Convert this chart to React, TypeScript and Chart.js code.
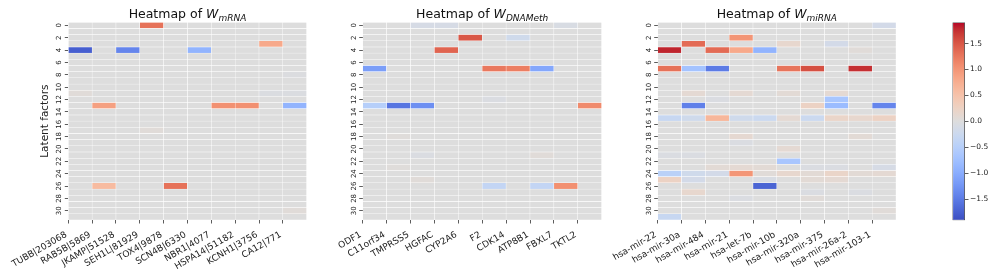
import React, { useEffect, useRef } from 'react';
import { Chart, registerables } from 'chart.js';

Chart.register(...registerables);
Chart.defaults.font.family = '"DejaVu Sans", sans-serif';
Chart.defaults.color = '#222222';

// ---------- data ----------
const mrnaGenes = ['TUBB|203068', 'RAB5B|5869', 'JKAMP|51528', 'SEH1L|81929', 'TOX4|9878', 'SCN4B|6330', 'NBR1|4077', 'HSPA14|51182', 'KCNH1|3756', 'CA12|771'];
const dnaGenes = ['ODF1', 'C11orf34', 'TMPRSS5', 'HGFAC', 'CYP2A6', 'F2', 'CDK14', 'ATP8B1', 'FBXL7', 'TKTL2'];
const mirnaGenes = ['hsa-mir-22', 'hsa-mir-30a', 'hsa-mir-484', 'hsa-mir-21', 'hsa-let-7b', 'hsa-mir-10b', 'hsa-mir-320a', 'hsa-mir-375', 'hsa-mir-26a-2', 'hsa-mir-103-1'];
const rowTicks = [0, 2, 4, 6, 8, 10, 12, 14, 16, 18, 20, 22, 24, 26, 28, 30];
const colorbarTicks = [-1.5, -1.0, -0.5, 0.0, 0.5, 1.0, 1.5];
const VMIN = -1.91;
const VMAX = 1.91;

const W_mRNA: number[][] = [
  [0, 0, 0, 1.3, 0, 0, 0, 0, 0, 0],
  [0, 0, 0, 0, 0, 0, 0, 0, 0, 0],
  [0, 0, 0, 0, 0, 0, 0, 0, 0, 0],
  [0, 0, 0, 0, 0, 0, 0, 0, 0.8, 0],
  [-1.75, 0, -1.4, 0, 0, -0.9, 0, 0, 0, 0],
  [0, 0, 0, 0, 0, 0, 0, 0, 0, 0],
  [0, 0, 0, 0, 0, 0, 0, 0, 0, 0],
  [0, 0, 0, 0, 0, 0, 0, 0, 0, 0],
  [0, 0, 0, 0, 0, 0, 0, 0, 0, -0.03],
  [0, 0, 0, 0, 0, 0, 0, 0, 0, 0],
  [0, 0, 0, 0, 0, 0, 0, 0, 0, 0],
  [0.05, 0, 0, 0, 0, 0, 0, 0, -0.04, -0.04],
  [0, 0, 0, 0, 0, 0, 0, 0, 0, 0],
  [0, 0.9, 0, 0, 0, 0, 1.05, 1.05, 0, -0.9],
  [0, 0, 0, 0, 0, 0, 0, 0, 0, 0],
  [0, 0, 0, 0, 0, 0, 0, 0, 0, 0],
  [0, 0, 0, 0, 0, 0, 0, 0, 0, 0],
  [0, 0, 0, 0.05, 0, 0, 0, 0, 0, 0],
  [0, 0, 0, 0, 0, 0, 0, 0, 0, 0],
  [0, 0, 0, 0, 0, 0, 0, 0, 0, 0],
  [0, 0, 0, 0, 0, 0, 0, 0, 0, 0],
  [0, 0, 0, 0, 0, 0, 0, 0, 0, 0],
  [0, 0, 0, 0, 0, 0, 0, 0, 0, 0],
  [0, 0, 0, 0, 0, 0, 0, 0, 0, 0],
  [0, 0, 0, 0, 0, 0, 0, 0, 0, 0],
  [0, 0, 0, 0, 0, 0, 0, 0, 0, 0],
  [0, 0.6, 0, 0, 1.3, 0, 0, 0, 0, 0],
  [0, 0, 0, 0, 0, 0, 0, 0, 0, 0],
  [0, 0, 0, 0, 0, 0, 0, 0, 0, 0],
  [0, 0, 0, 0, 0, 0, 0, 0, 0, 0],
  [0, 0, 0, 0, 0, 0, 0, 0, 0, 0.05],
  [0, 0, 0, 0, 0, 0, 0, 0, 0, 0],
];

const W_DNAMeth: number[][] = [
  [0, 0, -0.1, -0.1, 0, 0, 0, 0, -0.08, 0],
  [0, 0, 0, 0, 0, 0, 0, 0, 0, 0],
  [0, 0, 0, 0, 1.5, 0, -0.2, 0, 0, 0],
  [0, 0, 0, 0, 0, 0, 0, 0, 0, 0],
  [0, 0, 0, 1.4, 0, 0, 0, 0, 0, 0],
  [0, 0, 0, 0, 0, 0, 0, 0, 0, 0],
  [0, 0, 0, 0, 0, 0, 0, 0, 0, 0],
  [-1.15, 0, 0, 0, 0, 1.25, 1.2, -1.05, 0, 0],
  [0, 0, 0, 0, 0, 0, 0, 0, 0, 0],
  [0, 0, 0, 0, 0, 0, 0, 0, 0, 0],
  [0, 0, 0, 0, 0, 0, 0, 0, 0, 0],
  [0, 0, 0, 0, 0, 0, 0, 0, 0, 0],
  [0, 0, 0, 0, 0, -0.05, 0, 0, 0, 0],
  [-0.5, -1.55, -1.3, 0, 0, 0, 0, 0, 0, 1.1],
  [0, 0, 0, 0, 0, 0, 0, 0, 0, 0],
  [0, 0, 0, 0, 0, 0, 0, 0, 0, 0],
  [0, 0, 0, 0, 0, 0, 0, 0, 0, 0],
  [0, 0, 0, 0, 0, 0, 0, 0, 0, 0],
  [0, 0.03, 0, 0, 0, 0, 0, 0, 0, 0],
  [0, 0, 0, 0, 0, 0, 0, 0, 0, 0],
  [0, 0, 0, 0, 0, 0, 0, 0, 0, 0],
  [0, 0, -0.05, 0, 0, 0, 0, 0.05, 0, 0],
  [0, 0, 0, 0, 0, 0, 0, 0, 0, 0],
  [0, 0.03, 0, 0, 0, 0, 0, 0, 0, 0],
  [0, 0, 0, 0, 0, 0, 0, 0, 0, 0],
  [0, 0, 0.05, 0, 0, 0, 0, 0, 0, 0],
  [0, 0, 0, 0, 0, -0.35, 0, -0.35, 1.05, 0],
  [0, 0, 0, 0, 0, 0, 0, 0, 0, 0],
  [0, 0, 0, 0, 0, 0, 0, 0, 0, 0],
  [0, 0, 0, 0, 0, 0, 0, 0, 0, 0],
  [0, 0, 0, 0, 0, 0, 0, 0, 0, 0],
  [0, 0, 0, 0, 0, 0, 0, 0, 0, 0],
];

const W_miRNA: number[][] = [
  [0, 0, 0, 0, 0, 0, 0, 0, 0, -0.15],
  [0, 0, 0, 0, 0, 0, 0, 0, 0, 0],
  [0, 0, 0, 1.0, 0, 0, 0, 0, 0, 0],
  [0, 1.35, 0, 0, 0, 0.15, 0, -0.15, 0, 0],
  [1.8, 0, 1.35, 0.8, -0.9, 0, 0, 0, 0.05, 0],
  [0, 0, 0, 0, 0, 0, 0, 0, 0, 0],
  [0, 0, 0, 0, 0, 0, 0, 0, 0, 0],
  [1.3, -0.7, -1.5, 0, 0, 1.28, 1.55, 0, 1.75, 0],
  [0, 0, 0, 0, 0, 0, 0, 0, 0, 0],
  [0, 0, 0, 0, 0, 0, 0, 0, 0, 0],
  [0, 0, 0, 0, 0, 0, 0, 0, 0, 0],
  [0, 0.1, 0, 0.1, 0, 0.08, 0, 0.1, 0, 0],
  [0, 0, -0.05, 0, 0, 0, 0, -0.65, 0, 0],
  [0, -1.45, 0, 0, 0, 0, 0.25, -0.8, 0, -1.4],
  [0, 0, 0, 0, 0, 0, 0, 0, 0, 0],
  [-0.3, -0.2, 0.65, -0.2, -0.25, 0.1, -0.25, 0.2, 0.15, 0.25],
  [0, 0, 0, 0, 0, 0, 0, 0, 0, 0],
  [0, 0, 0, 0, 0, 0, 0, 0, 0, 0],
  [0, 0, 0, 0.12, 0, 0, 0, 0, 0.08, 0],
  [0, 0, 0, -0.05, 0, 0, 0, 0, 0, 0],
  [0, 0, 0, 0, 0, 0.1, 0, 0, 0, 0],
  [-0.05, -0.05, 0, 0, 0, 0, 0, 0, 0, 0],
  [0, 0, 0, 0, 0, -0.65, 0, 0, 0, 0],
  [0, 0, 0.08, 0.1, 0.08, 0, -0.05, -0.05, 0, -0.1],
  [-0.45, -0.2, -0.15, 1.0, 0.05, 0.15, 0.08, 0.2, 0.08, 0.1],
  [0.25, -0.15, 0, 0, -0.08, 0, 0.08, 0.1, 0, 0],
  [0, 0, 0, 0, -1.7, 0, 0, 0, 0, 0],
  [0, 0.15, 0, 0, 0, 0, -0.05, 0, -0.05, 0],
  [0, 0, 0, -0.05, 0, 0, 0.05, 0, 0, 0],
  [0, 0, 0, 0, 0, 0, 0, 0, 0, 0],
  [0, 0, 0, 0, 0, 0, 0, 0, 0, 0.05],
  [-0.3, 0, 0, 0, 0, 0, 0, 0, 0, 0],
];

// ---------- colormap (matplotlib coolwarm) ----------
const COOLWARM: number[][] = [
  [59, 76, 192], [68, 90, 204], [77, 104, 215], [87, 117, 225], [98, 130, 234], [108, 142, 241],
  [119, 154, 247], [130, 165, 251], [141, 176, 254], [152, 185, 255], [163, 194, 255], [174, 201, 253],
  [184, 208, 249], [194, 213, 244], [204, 217, 238], [213, 219, 230], [221, 221, 221], [229, 216, 209],
  [236, 211, 197], [241, 204, 185], [245, 196, 173], [247, 187, 160], [247, 177, 148], [247, 166, 135],
  [244, 154, 123], [241, 141, 111], [236, 127, 99], [229, 112, 88], [222, 96, 77], [213, 80, 66],
  [203, 62, 56], [192, 40, 47], [180, 4, 38],
];

function coolwarm(t: number): string {
  const tt = Math.max(0, Math.min(1, t));
  const pos = tt * (COOLWARM.length - 1);
  const i = Math.min(COOLWARM.length - 2, Math.floor(pos));
  const f = pos - i;
  const a = COOLWARM[i];
  const b = COOLWARM[i + 1];
  const c = a.map((v, k) => Math.round(v + (b[k] - v) * f));
  return `rgb(${c[0]},${c[1]},${c[2]})`;
}

const FONT = '"DejaVu Sans", sans-serif';
const TOP = 22.3;
const BOTTOM = 220;
const H = 277;
const XAXIS_H = H - BOTTOM;

type PanelProps = {
  labels: string[];
  values: number[][];
  canvasLeft: number;
  canvasWidth: number;
  areaLeft: number;
  areaRight: number;
  yWidth: number;
  showYTitle: boolean;
};

function Heatmap({ labels, values, canvasLeft, canvasWidth, areaLeft, areaRight, yWidth, showYTitle }: PanelProps) {
  const ref = useRef<HTMLCanvasElement | null>(null);
  useEffect(() => {
    if (!ref.current) return;
    const points: { x: number; y: number[] }[] = [];
    const colors: string[] = [];
    values.forEach((row, r) => {
      row.forEach((v, c) => {
        points.push({ x: c + 0.5, y: [r, r + 1] });
        colors.push(coolwarm((v - VMIN) / (VMAX - VMIN)));
      });
    });
    const chart = new Chart(ref.current, {
      type: 'bar',
      data: {
        datasets: [
          {
            data: points as any,
            backgroundColor: colors,
            borderColor: '#ffffff',
            borderWidth: 0.5,
            borderSkipped: false,
            barPercentage: 1,
            categoryPercentage: 1,
          } as any,
        ],
      },
      options: {
        responsive: false,
        animation: false,
        events: [],
        layout: {
          padding: {
            left: areaLeft - canvasLeft - yWidth,
            right: canvasLeft + canvasWidth - areaRight,
            top: TOP,
            bottom: 0,
          },
        },
        plugins: { legend: { display: false }, tooltip: { enabled: false }, title: { display: false } },
        scales: {
          x: {
            type: 'linear',
            min: 0,
            max: labels.length,
            offset: false,
            afterBuildTicks: (s: any) => {
              s.ticks = labels.map((_, i) => ({ value: i }));
            },
            afterFit: (s: any) => {
              s.height = XAXIS_H;
              s.paddingLeft = 0;
              s.paddingRight = 0;
            },
            ticks: {
              autoSkip: false,
              minRotation: 30,
              maxRotation: 30,
              padding: 6,
              labelOffset: -2,
              color: '#222222',
              font: { family: FONT, size: 9 },
              callback: (v: any) => labels[Math.round(Number(v))] ?? '',
            },
            grid: { offset: false, drawOnChartArea: false, drawTicks: true, tickLength: 3.5, color: '#333333', lineWidth: 0.8 },
            border: { display: false },
          },
          y: {
            type: 'linear',
            reverse: true,
            min: 0,
            max: values.length,
            afterBuildTicks: (s: any) => {
              s.ticks = rowTicks.map((t) => ({ value: t + 0.5 }));
            },
            afterFit: (s: any) => {
              s.width = yWidth;
              s.paddingTop = 0;
              s.paddingBottom = 0;
            },
            ticks: {
              autoSkip: false,
              minRotation: 90,
              maxRotation: 90,
              crossAlign: 'center',
              padding: 1,
              color: '#222222',
              font: { family: FONT, size: 7 },
              callback: (v: any) => String(Math.round(Number(v) - 0.5)),
            },
            grid: { offset: false, drawOnChartArea: false, drawTicks: true, tickLength: 3.5, color: '#333333', lineWidth: 0.8 },
            border: { display: false },
            title: {
              display: showYTitle,
              text: 'Latent factors',
              color: '#222222',
              font: { family: FONT, size: 10.5 },
              padding: { top: 1, bottom: 0 },
            },
          },
        },
      } as any,
    });
    return () => chart.destroy();
  }, []);
  return (
    <canvas
      ref={ref}
      width={canvasWidth}
      height={H}
      style={{ position: 'absolute', left: canvasLeft, top: 0, width: canvasWidth, height: H }}
    />
  );
}

function Colorbar() {
  const ref = useRef<HTMLCanvasElement | null>(null);
  const canvasLeft = 930;
  const canvasWidth = 67;
  const areaLeft = 952.3;
  const areaRight = 965;
  const axisW = 28;
  useEffect(() => {
    if (!ref.current) return;
    const chart = new Chart(ref.current, {
      type: 'bar',
      data: {
        labels: [''],
        datasets: [
          {
            data: [[VMIN, VMAX]] as any,
            backgroundColor: (ctx: any) => {
              const ca = ctx.chart.chartArea;
              if (!ca) return '#dddddd';
              const g = ctx.chart.ctx.createLinearGradient(0, ca.bottom, 0, ca.top);
              COOLWARM.forEach((c, i) => g.addColorStop(i / (COOLWARM.length - 1), `rgb(${c[0]},${c[1]},${c[2]})`));
              return g;
            },
            borderColor: '#333333',
            borderWidth: 0.8,
            borderSkipped: false,
            barPercentage: 1,
            categoryPercentage: 1,
            inflateAmount: 0,
          } as any,
        ],
      },
      options: {
        responsive: false,
        animation: false,
        events: [],
        layout: {
          padding: {
            left: areaLeft - canvasLeft,
            right: canvasLeft + canvasWidth - areaRight - axisW,
            top: TOP,
            bottom: H - 220.5,
          },
        },
        plugins: { legend: { display: false }, tooltip: { enabled: false } },
        scales: {
          x: { display: false },
          y: {
            type: 'linear',
            position: 'right',
            min: VMIN,
            max: VMAX,
            afterBuildTicks: (s: any) => {
              s.ticks = colorbarTicks.map((t) => ({ value: t }));
            },
            afterFit: (s: any) => {
              s.width = axisW;
              s.paddingTop = 0;
              s.paddingBottom = 0;
            },
            ticks: {
              autoSkip: false,
              padding: 1.5,
              color: '#222222',
              font: { family: FONT, size: 7.5 },
              callback: (v: any) => Number(v).toFixed(1).replace('-', '\u2212'),
            },
            grid: { drawOnChartArea: false, drawTicks: true, tickLength: 3.5, color: '#333333', lineWidth: 0.8 },
            border: { display: false },
          },
        },
      } as any,
    });
    return () => chart.destroy();
  }, []);
  return (
    <canvas
      ref={ref}
      width={canvasWidth}
      height={H}
      style={{ position: 'absolute', left: canvasLeft, top: 0, width: canvasWidth, height: H }}
    />
  );
}

function Title({ left, right, sub }: { left: number; right: number; sub: string }) {
  return (
    <div
      style={{
        position: 'absolute',
        left,
        width: right - left,
        top: 6,
        textAlign: 'center',
        fontFamily: FONT,
        fontSize: 12.5,
        lineHeight: '15px',
        color: '#111111',
        whiteSpace: 'nowrap',
      }}
    >
      Heatmap of <span style={{ fontStyle: 'italic' }}>W</span>
      <span style={{ fontStyle: 'italic', fontSize: '0.72em', position: 'relative', top: '0.3em' }}>{sub}</span>
    </div>
  );
}

export default function App() {
  const panels = [
    { labels: mrnaGenes, values: W_mRNA, canvasLeft: 0, canvasWidth: 320, areaLeft: 68.3, areaRight: 306.7, yWidth: 30, showYTitle: true, sub: 'mRNA' },
    { labels: dnaGenes, values: W_DNAMeth, canvasLeft: 300, canvasWidth: 320, areaLeft: 362.7, areaRight: 601.7, yWidth: 18, showYTitle: false, sub: 'DNAMeth' },
    { labels: mirnaGenes, values: W_miRNA, canvasLeft: 560, canvasWidth: 370, areaLeft: 657.7, areaRight: 896, yWidth: 18, showYTitle: false, sub: 'miRNA' },
  ];
  return (
    <div style={{ position: 'absolute', left: 0, top: 0, width: 997, height: H, background: '#ffffff', overflow: 'hidden' }}>
      {panels.map((p, i) => (
        <Heatmap
          key={i}
          labels={p.labels}
          values={p.values}
          canvasLeft={p.canvasLeft}
          canvasWidth={p.canvasWidth}
          areaLeft={p.areaLeft}
          areaRight={p.areaRight}
          yWidth={p.yWidth}
          showYTitle={p.showYTitle}
        />
      ))}
      {panels.map((p, i) => (
        <Title key={'t' + i} left={p.areaLeft} right={p.areaRight} sub={p.sub} />
      ))}
      <Colorbar />
    </div>
  );
}
